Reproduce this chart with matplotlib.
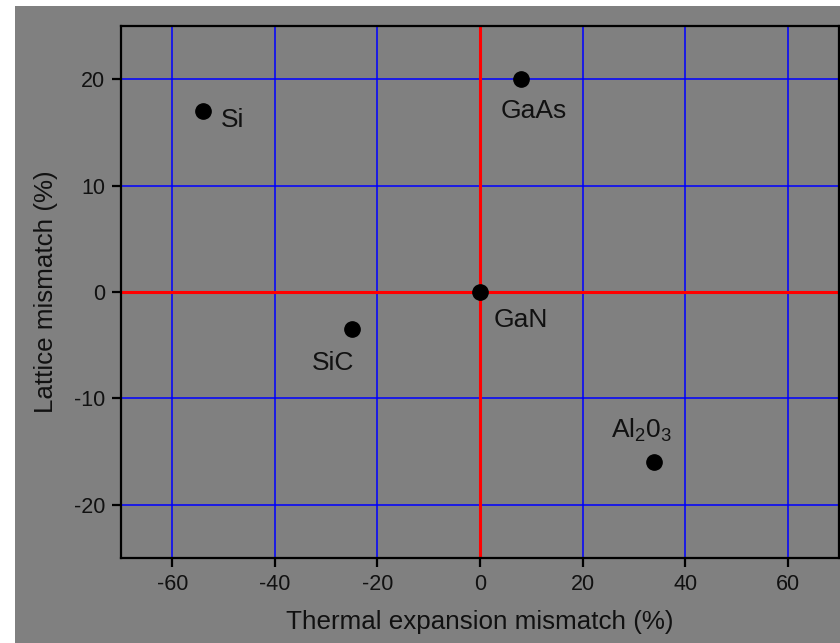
import matplotlib
matplotlib.use("Agg")
import matplotlib.pyplot as plt
from matplotlib.patches import Rectangle

plt.rcParams['font.family'] = ['Liberation Sans', 'DejaVu Sans']
plt.rcParams['mathtext.fontset'] = 'custom'
plt.rcParams['mathtext.rm'] = 'Liberation Sans'
plt.rcParams['mathtext.it'] = 'Liberation Sans'
plt.rcParams['axes.unicode_minus'] = False

# Data
materials = ["Si", "GaAs", "GaN", "SiC", "Al$_\\mathregular{2}$0$_\\mathregular{3}$"]
thermal_mismatch = [-54, 8, 0, -25, 34]
lattice_mismatch = [17, 20, 0, -3.5, -16]
label_x = [-50.6, 4.1, 2.7, -32.7, 25.5]
label_y = [15.5, 16.35, -3.3, -7.3, -13.7]
x_ticks = [-60, -40, -20, 0, 20, 40, 60]
y_ticks = [-20, -10, 0, 10, 20]

W, H = 840, 643
fig = plt.figure(figsize=(W / 100, H / 100), dpi=100, facecolor='white')
fig.patches.append(Rectangle((15 / W, 0), 1 - 15 / W, (H - 6) / H,
                             transform=fig.transFigure, facecolor='#808080',
                             edgecolor='none', zorder=-10))

ax = fig.add_axes([121 / W, (H - 558) / H, (839 - 121) / W, (558 - 26) / H])
ax.set_facecolor('#808080')

ax.set_xlim(-70, 70)
ax.set_ylim(-25, 25)
ax.set_xticks(x_ticks)
ax.set_yticks(y_ticks)
ax.grid(True, color='#0000ff', linewidth=1.1, zorder=1)
ax.set_axisbelow(True)

ax.axvline(0, color='#ff0000', linewidth=2.2, zorder=2)
ax.axhline(0, color='#ff0000', linewidth=2.2, zorder=2)

ax.plot(thermal_mismatch, lattice_mismatch, linestyle='none', marker='o',
        markersize=11, color='black', zorder=3)

for name, lx, ly in zip(materials, label_x, label_y):
    ax.text(lx, ly, name, ha='left', va='baseline', fontsize=19, color='#111111', zorder=4)

for s in ax.spines.values():
    s.set_linewidth(1.6)
    s.set_color('black')

ax.tick_params(axis='both', direction='out', length=6.5, width=1.6, color='black',
               labelsize=15.5, labelcolor='#111111', pad=5)

ax.set_xlabel("Thermal expansion mismatch (%)", fontsize=18.7, color='#111111')
ax.set_ylabel("Lattice mismatch (%)", fontsize=18.7, color='#111111')
ax.xaxis.set_label_coords(0.5, -(622 - 558) / (558 - 26), transform=ax.transAxes)
ax.xaxis.label.set_verticalalignment('center')
ax.yaxis.set_label_coords(-(121 - 46) / (839 - 121), 0.5, transform=ax.transAxes)
ax.yaxis.label.set_verticalalignment('center')

fig.savefig("out.png", dpi=100, facecolor=fig.get_facecolor())
